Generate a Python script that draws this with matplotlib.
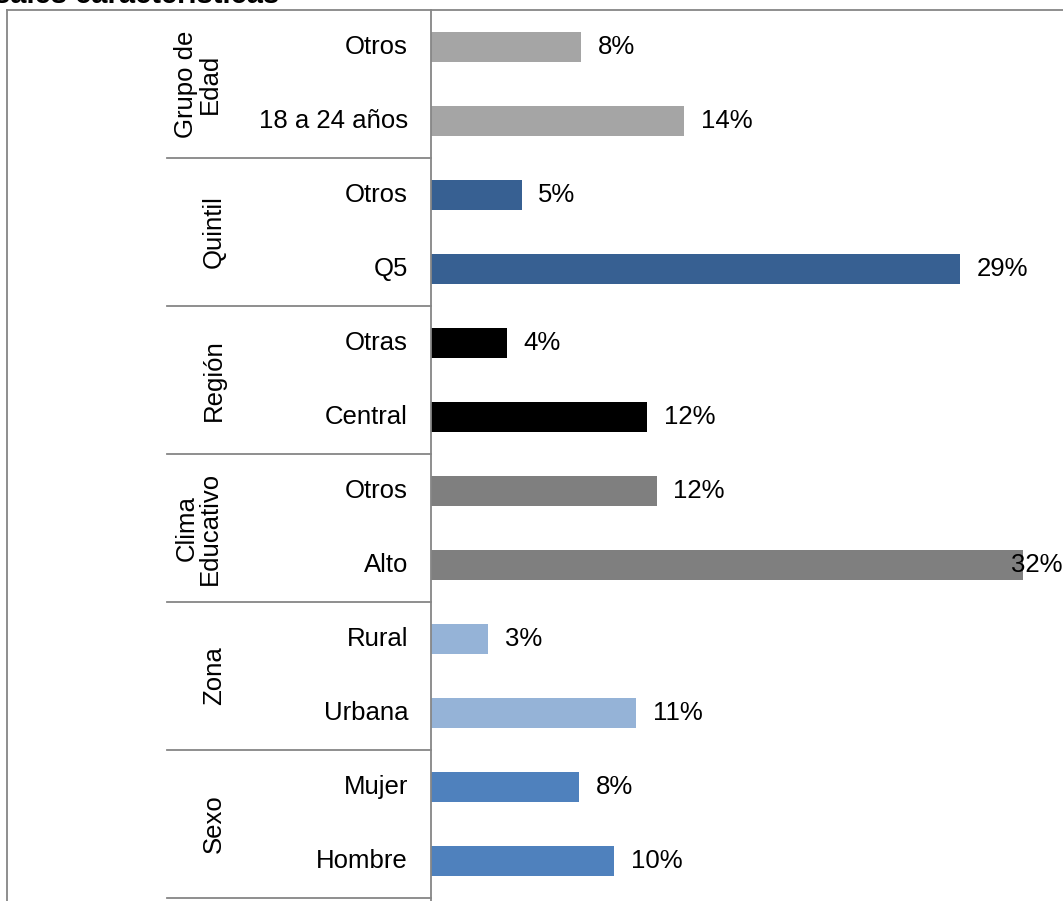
import matplotlib.pyplot as plt
from matplotlib.lines import Line2D
import matplotlib.transforms as mtransforms

plt.rcParams['font.family'] = ['Liberation Sans', 'DejaVu Sans']

grupos = ['Grupo de\nEdad', 'Quintil', 'Región', 'Clima\nEducativo', 'Zona', 'Sexo']
categorias = ['Otros', '18 a 24 años', 'Otros', 'Q5', 'Otras', 'Central',
              'Otros', 'Alto', 'Rural', 'Urbana', 'Mujer', 'Hombre']
valores = [8.1, 13.7, 4.9, 28.6, 4.1, 11.7, 12.2, 32.0, 3.1, 11.1, 8.0, 9.9]
colores_grupo = ['#A5A5A5', '#376092', '#000000', '#7F7F7F', '#95B3D7', '#4F81BD']

W, H = 1063, 901
fig = plt.figure(figsize=(W / 100, H / 100), dpi=100)
ax = fig.add_axes([431 / W, 3 / H, (W - 431) / W, 888 / H])

colores = [c for c in colores_grupo for _ in range(2)]
pos = [i + 0.5 for i in range(len(categorias))]
ax.barh(pos, valores, height=0.4, color=colores)
ax.set_ylim(len(categorias), 0)
ax.set_xlim(0, 34.16)

for s in ['top', 'right', 'bottom']:
    ax.spines[s].set_visible(False)
ax.spines['left'].set_color('#868686')
ax.spines['left'].set_linewidth(1.3)
ax.spines['left'].set_bounds(0, 12.2)
ax.set_xticks([])
ax.set_yticks([])

fs = 18.5
trans = mtransforms.blended_transform_factory(ax.transAxes, ax.transData)
x_cat = -23 / 632
x_sep = -264 / 632

for p, cat, v in zip(pos, categorias, valores):
    ax.text(x_cat, p, cat, transform=trans, ha='right', va='center', fontsize=fs)
    if v + 2.6 > ax.get_xlim()[1]:
        ax.text(1.0, p, f'{v:.0f}%', transform=trans, ha='right', va='center',
                fontsize=fs, clip_on=False)
    else:
        ax.annotate(f'{v:.0f}%', (v, p), xytext=(12, 0), textcoords='offset points',
                    ha='left', va='center', fontsize=fs)

for i, g in enumerate(grupos):
    xg = (198 - 431) / 632 if '\n' in g else (214 - 431) / 632
    ax.text(xg, 2 * i + 1, g, transform=trans, ha='center', va='center',
            rotation=90, fontsize=fs, multialignment='center', linespacing=0.95)
    ax.add_line(Line2D([x_sep, 0], [2 * i + 2, 2 * i + 2], transform=trans,
                       color='#868686', lw=1.3, clip_on=False))

# marco exterior
fig.add_artist(Line2D([7 / W, 7 / W], [0, 1 - 10 / H], color='#868686', lw=1.3))
fig.add_artist(Line2D([7 / W, 1], [1 - 10 / H, 1 - 10 / H], color='#868686', lw=1.3))

fig.text(-6 / W, 1 - 3 / H, 'sales características', fontsize=21, fontweight='bold',
         ha='left', va='baseline')

fig.savefig('out.png', dpi=100)
